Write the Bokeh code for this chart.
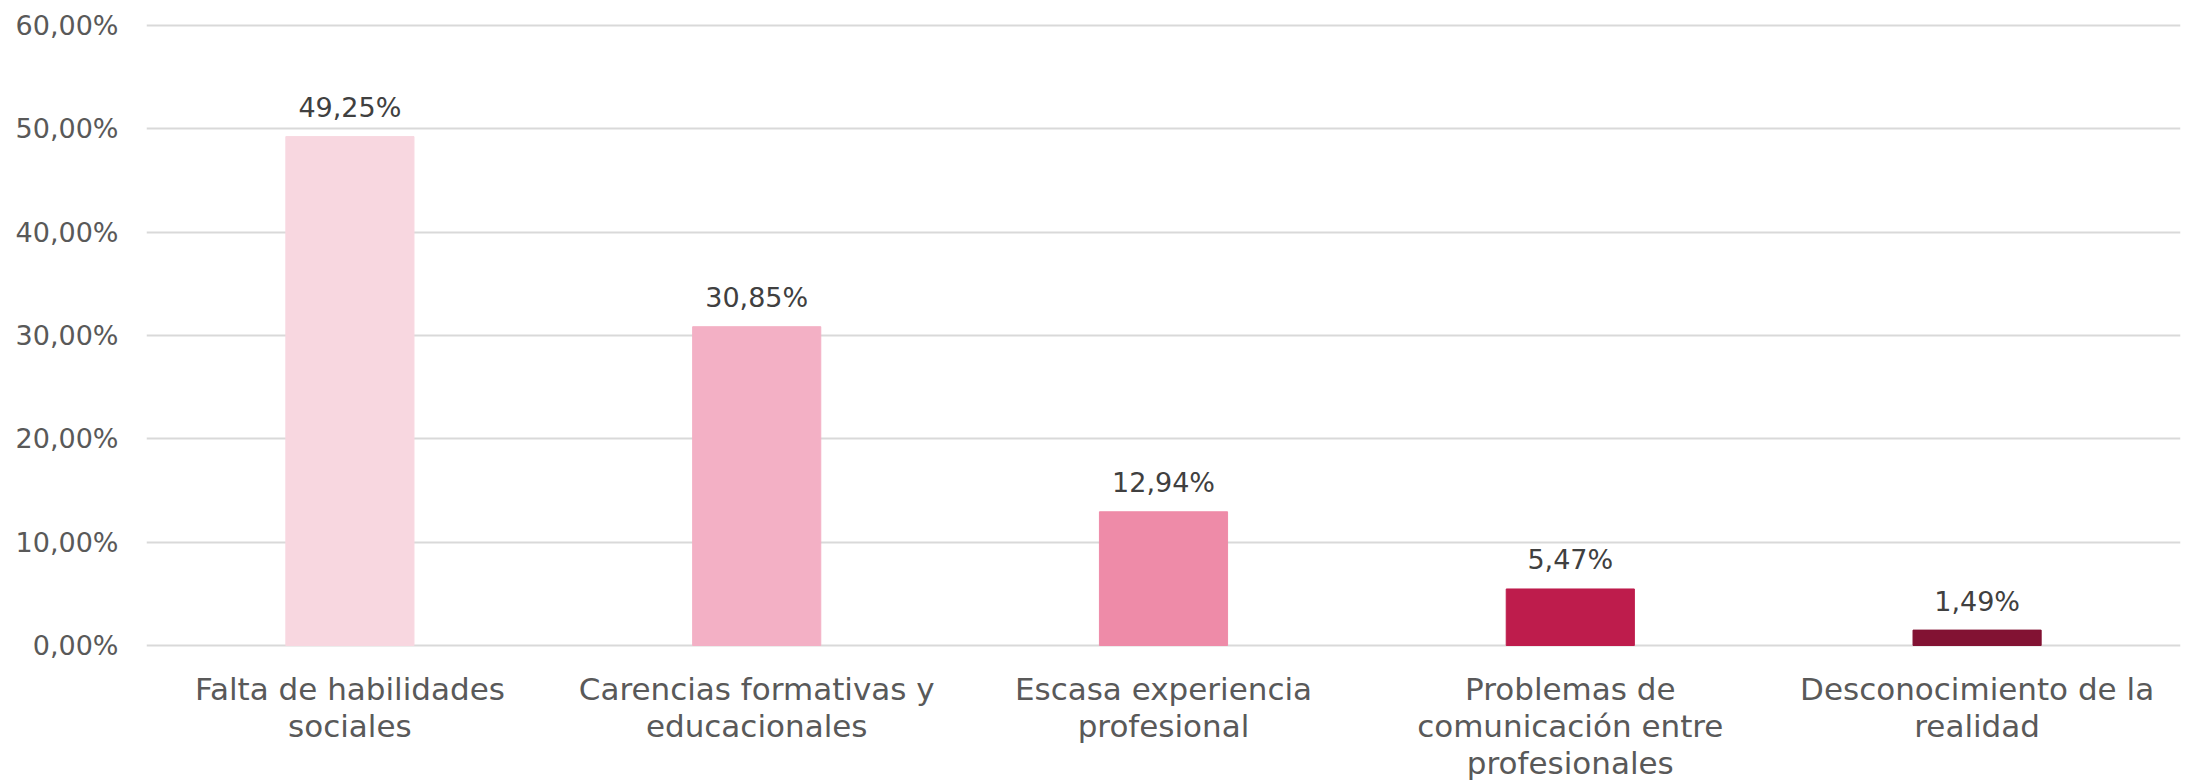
from bokeh.plotting import figure
from bokeh.models import ColumnDataSource, FixedTicker, FactorRange, Range1d
from bokeh.core.properties import value
from bokeh.embed import file_html
from bokeh.resources import INLINE

categories = [
    "Falta de habilidades\nsociales",
    "Carencias formativas y\neducacionales",
    "Escasa experiencia\nprofesional",
    "Problemas de\ncomunicación entre\nprofesionales",
    "Desconocimiento de la\nrealidad",
]
values = [49.25, 30.85, 12.94, 5.47, 1.49]
value_labels = ["49,25%", "30,85%", "12,94%", "5,47%", "1,49%"]
colors = ["#F8D7E0", "#F3B0C5", "#EE8BA8", "#BE1C4C", "#821233"]
y_ticks = [0, 10, 20, 30, 40, 50, 60]
y_tick_labels = ["0,00%", "10,00%", "20,00%", "30,00%", "40,00%", "50,00%", "60,00%"]

FONT = "DejaVu Sans"
W, H = 2182, 781
LEFT, RIGHT = 146, 2
PAD_TOP = 3            # px above the 60% line
TOP = 25 - PAD_TOP     # 60% gridline at y=25
ZERO_Y = 645           # 0% gridline at y=645
Y_MAX = 60
ppu = (ZERO_Y - 25) / Y_MAX
y_top = Y_MAX + PAD_TOP / ppu
y_min = -(H - ZERO_Y) / ppu

src = ColumnDataSource(dict(cat=categories, val=values, lab=value_labels, col=colors))

# one row per line of category label
l_cat, l_txt, l_off = [], [], []
for c in categories:
    for i, line in enumerate(c.split("\n")):
        l_cat.append(c)
        l_txt.append(line)
        l_off.append(43 + 37 * i)
lsrc = ColumnDataSource(dict(cat=l_cat, txt=l_txt, off=l_off, y=[0] * len(l_cat)))

p = figure(
    x_range=FactorRange(*categories, range_padding=0.0),
    y_range=Range1d(y_min, y_top),
    width=W, height=H,
    output_backend="svg", toolbar_location=None,
    min_border_left=LEFT, min_border_right=RIGHT, min_border_top=TOP, min_border_bottom=0,
)
p.vbar(x="cat", top="val", width=0.315, color="col", source=src)
p.text(x="cat", y="val", text="lab", source=src, text_align="center", text_baseline="alphabetic",
       y_offset=-29, text_font=value(FONT), text_font_size="27px", text_color="#404040")
p.text(x="cat", y="y", text="txt", source=lsrc, text_align="center", text_baseline="alphabetic",
       y_offset="off", text_font=value(FONT), text_font_size="31px", text_color="#595959")

p.outline_line_color = None
p.xgrid.grid_line_color = None
p.ygrid.grid_line_color = "#D9D9D9"
p.ygrid.grid_line_width = 1.8

p.xaxis.visible = False

p.yaxis.ticker = FixedTicker(ticks=y_ticks)
p.yaxis.major_label_overrides = {t: l for t, l in zip(y_ticks, y_tick_labels)}
p.yaxis.axis_line_color = None
p.yaxis.major_tick_line_color = None
p.yaxis.minor_tick_line_color = None
p.yaxis.major_tick_out = 0
p.yaxis.major_tick_in = 0
p.yaxis.major_label_standoff = 28
p.yaxis.major_label_text_font = FONT
p.yaxis.major_label_text_font_size = "27px"
p.yaxis.major_label_text_color = "#595959"

open("out.html", "w").write(file_html(p, INLINE))
